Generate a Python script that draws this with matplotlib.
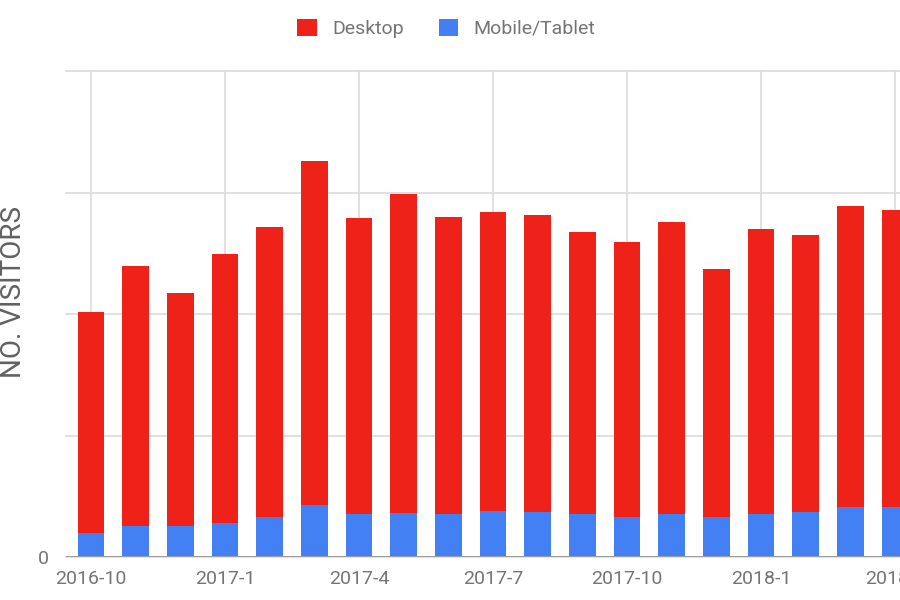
import matplotlib
matplotlib.use("Agg")
import matplotlib.pyplot as plt
from matplotlib.patches import Patch

plt.rcParams['font.family'] = ['Roboto', 'DejaVu Sans']

# monthly visitors, 2016-10 .. 2018-4
months = ["2016-10", "2016-11", "2016-12", "2017-1", "2017-2", "2017-3",
          "2017-4", "2017-5", "2017-6", "2017-7", "2017-8", "2017-9",
          "2017-10", "2017-11", "2017-12", "2018-1", "2018-2", "2018-3",
          "2018-4"]
desktop = [1819, 2140, 1915, 2212, 2389, 2834, 2434, 2623, 2447, 2461,
           2445, 2318, 2261, 2406, 2039, 2346, 2280, 2477, 2444]
mobile = [200, 255, 255, 282, 329, 428, 354, 365, 354, 381,
          370, 354, 329, 354, 329, 354, 370, 412, 412]

red = "#EE2218"
blue = "#4280F4"
grey_txt = "#757575"

fig = plt.figure(figsize=(9, 6), dpi=100)
ax = fig.add_axes([66/900, 1 - 557/600, 1 - 66/900, (557 - 71)/600])

x = list(range(len(months)))
ax.bar(x, mobile, width=0.6, color=blue, zorder=3)
ax.bar(x, desktop, width=0.6, bottom=mobile, color=red, zorder=3)

ax.set_xlim(-0.56, 18.11)
ax.set_ylim(0, 4000)
ax.set_yticks([0, 1000, 2000, 3000, 4000])
ax.set_yticklabels(["0", "", "", "", ""])
ax.set_xticks(x[::3])
ax.set_xticklabels(months[::3])
ax.tick_params(length=0, labelsize=14, labelcolor=grey_txt)
ax.tick_params(axis='x', pad=9)
ax.tick_params(axis='y', pad=12)

ax.grid(True, color="#dddddd", linewidth=1.3, zorder=0)
for gl in ax.get_xgridlines() + ax.get_ygridlines():
    gl.set_clip_on(False)
for s in ax.spines.values():
    s.set_visible(False)
ax.axhline(0, color="#9e9e9e", linewidth=2.2, zorder=4)

ax.set_ylabel("NO. VISITORS", fontsize=20, color="#616161")
ax.yaxis.set_label_coords(-0.047, 0.545)

handles = [Patch(facecolor=red, label="Desktop"),
           Patch(facecolor=blue, label="Mobile/Tablet")]
fig.legend(handles=handles, loc="center", bbox_to_anchor=(0.496, 0.953),
           ncol=2, frameon=False, fontsize=14, handlelength=1.0,
           handleheight=1.0, columnspacing=1.8, handletextpad=0.8,
           labelcolor=grey_txt)

fig.savefig("out.png", dpi=100)
